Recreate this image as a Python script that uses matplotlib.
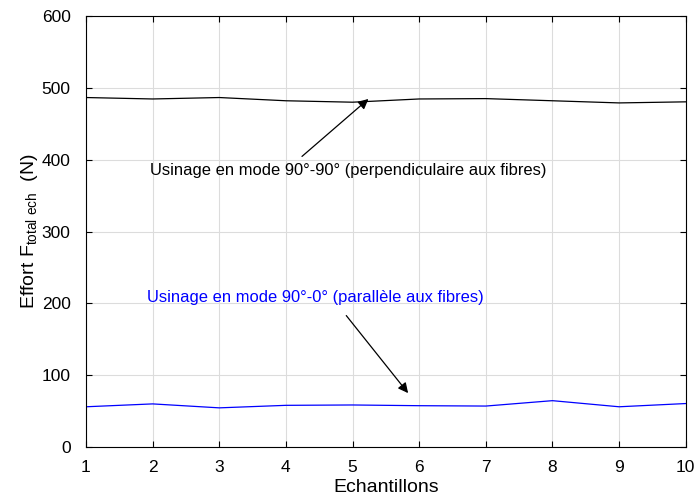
import matplotlib
matplotlib.use('Agg')
import matplotlib.pyplot as plt

plt.rcParams['font.family'] = ['Liberation Sans', 'DejaVu Sans']

# echantillons 1..10
echantillons = [1, 2, 3, 4, 5, 6, 7, 8, 9, 10]
# effort en mode 90-90 (perpendiculaire)
effort_90_90 = [486.5, 484.5, 486.5, 482, 480, 484.5, 485, 482, 479, 480.5]
# effort en mode 90-0 (parallele)
effort_90_0 = [56, 60, 54.5, 58, 58.5, 57.5, 57, 64.5, 56, 60.5]

fig = plt.figure(figsize=(6.99, 5.0), dpi=100)
ax = fig.add_axes([0.123, 0.106, 0.858, 0.862])

ax.plot(echantillons, effort_90_90, color='black', linewidth=0.9)
ax.plot(echantillons, effort_90_0, color='blue', linewidth=0.9)

ax.set_xlim(1, 10)
ax.set_ylim(0, 600)
ax.set_xticks(echantillons)
ax.set_yticks(range(0, 601, 100))
ax.grid(True, color='#dcdcdc', linewidth=0.8)
ax.set_axisbelow(True)
ax.tick_params(direction='in', top=True, right=True, labelsize=12.5, length=4)
ax.tick_params(axis='y', pad=11)
ax.tick_params(axis='x', pad=9)
for s in ax.spines.values():
    s.set_linewidth(0.8)

ax.set_xlabel('Echantillons', fontsize=14, labelpad=3)
ax.set_ylabel(r'Effort F$_{\mathregular{total\ ech}}$  (N)', fontsize=14, labelpad=1)

# annotations avec fleches
ax.annotate('', xy=(5.27, 487), xytext=(4.21, 402),
            arrowprops=dict(arrowstyle='-|>', color='black', lw=0.9, mutation_scale=15))
ax.text(1.96, 385.5, 'Usinage en mode 90°-90° (perpendiculaire aux fibres)',
        fontsize=11.9, color='black', va='center', ha='left')

ax.annotate('', xy=(5.86, 72), xytext=(4.88, 186),
            arrowprops=dict(arrowstyle='-|>', color='black', lw=0.9, mutation_scale=15))
ax.text(1.915, 207.5, 'Usinage en mode 90°-0° (parallèle aux fibres)',
        fontsize=11.9, color='blue', va='center', ha='left')

fig.savefig('out.png', dpi=100)
